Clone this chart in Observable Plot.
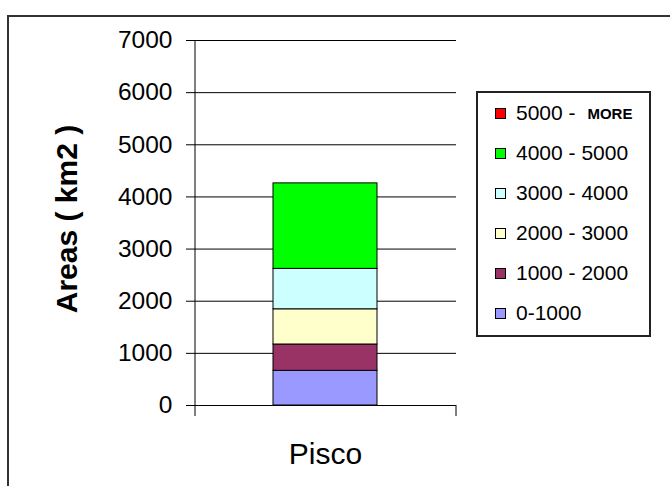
<!DOCTYPE html>
<html>
<head>
<meta charset="utf-8">
<script src="https://cdn.jsdelivr.net/npm/d3@7"></script>
<script src="https://cdn.jsdelivr.net/npm/@observablehq/plot@0.6"></script>
<style>
  html, body { margin: 0; padding: 0; background: #fff; }
  #wrap { position: relative; width: 670px; height: 486px; overflow: hidden; font-family: "Liberation Sans", Arial, sans-serif; }
  #border { position: absolute; left: 7px; top: 15px; width: 700px; height: 600px; border-left: 2px solid #333; border-top: 2px solid #333; box-sizing: border-box; }
  #chart { position: absolute; left: 0; top: 0; }
  #legend { position: absolute; left: 476px; top: 91px; width: 175px; height: 246px; box-sizing: border-box; border: 2px solid #222; padding: 0 0 0 17px; background: #fff; }
  .row { height: 40px; display: flex; align-items: center; font-size: 21px; color: #000; white-space: pre; }
  .sw { width: 11px; height: 11px; box-sizing: border-box; border: 1px solid #000; margin-right: 10px; flex: none; }
  .small { font-size: 15px; font-weight: bold; margin-left: 6px; }
</style>
</head>
<body>
<div id="wrap">
  <div id="border"></div>
  <div id="chart"></div>
  <div id="legend"></div>
</div>
<script>
const categories = ["Pisco"];
const bands = ["0-1000", "1000 - 2000", "2000 - 3000", "3000 - 4000", "4000 - 5000", "5000 - MORE"];
const areas = [665, 505, 675, 775, 1640, 0];
const colors = ["#9999FF", "#993366", "#FFFFCC", "#CCFFFF", "#00FF00", "#FF0000"];
const yTicks = [0, 1000, 2000, 3000, 4000, 5000, 6000, 7000];
const yLabel = "Areas ( km2 )";

const data = bands.map((b, i) => ({category: categories[0], band: b, area: areas[i]}));

const width = 670, height = 486;
const mL = 195, mR = 214, mT = 40, mB = 81;
const W = width - mL - mR;

const chart = Plot.plot({
  width, height,
  marginLeft: mL, marginRight: mR, marginTop: mT, marginBottom: mB,
  style: {fontFamily: "'Liberation Sans', Arial, sans-serif", color: "#000", background: "transparent", overflow: "visible"},
  x: {domain: categories, padding: 0.427, label: null},
  y: {domain: [0, 7000], label: null},
  color: {domain: bands, range: colors},
  marks: [
    Plot.ruleY(yTicks, {stroke: "#000"}),
    Plot.barY(data, {x: "category", y: "area", fill: "band", stroke: "#000", strokeWidth: 1}),
    Plot.ruleX(categories, {x: d => d, y1: 7000, y2: 0, insetBottom: -11, dx: -W / 2, stroke: "#000"}),
    Plot.ruleX(categories, {x: d => d, y1: 0, y2: 0, insetBottom: -11, dx: W / 2, stroke: "#000"}),
    Plot.axisY({ticks: yTicks, tickSize: 9, tickPadding: 14, fontSize: 24.5, tickFormat: d => String(d), label: null}),
    Plot.axisX({tickSize: 0, tickPadding: 37, fontSize: 30, label: null}),
    Plot.text([yLabel], {frameAnchor: "left", textAnchor: "middle", rotate: -90, dx: -128, dy: -4, fontSize: 30, fontWeight: "bold", fill: "#000"})
  ]
});
document.getElementById("chart").appendChild(chart);

// legend (top to bottom = reverse stacking order)
const legend = document.getElementById("legend");
bands.slice().reverse().forEach(b => {
  const row = document.createElement("div");
  row.className = "row";
  const sw = document.createElement("div");
  sw.className = "sw";
  sw.style.background = chart.scale("color").apply(b);
  row.appendChild(sw);
  const m = b.match(/^(.*?)\s*(MORE)$/);
  if (m) {
    row.appendChild(document.createTextNode(m[1] + " "));
    const s = document.createElement("span");
    s.className = "small";
    s.textContent = m[2];
    row.appendChild(s);
  } else {
    row.appendChild(document.createTextNode(b));
  }
  legend.appendChild(row);
});
</script>
</body>
</html>
